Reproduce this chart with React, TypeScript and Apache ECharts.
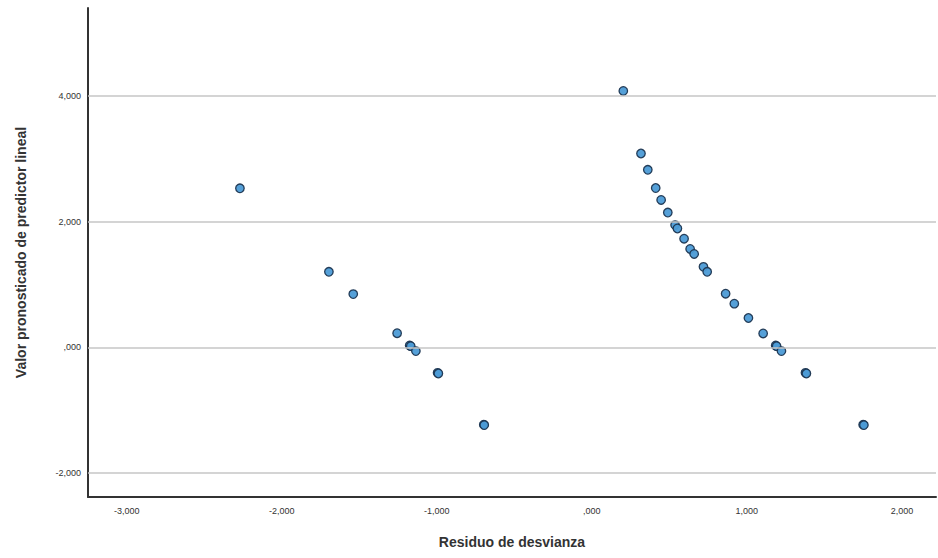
import React, { useEffect, useRef } from "react";
import * as echarts from "echarts";

const residuoIzq = [-2.27, -1.696, -1.539, -1.256, -1.175, -1.168, -1.135, -0.995, -0.99, -0.697, -0.694];
const predictorIzq = [2.532, 1.203, 0.848, 0.226, 0.03, 0.02, -0.059, -0.405, -0.415, -1.229, -1.235];

const residuoDer = [0.203, 0.317, 0.361, 0.412, 0.447, 0.49, 0.537, 0.552, 0.595, 0.634, 0.66, 0.72, 0.744, 0.863, 0.919, 1.01, 1.105, 1.186, 1.192, 1.223, 1.378, 1.384, 1.75, 1.755];
const predictorDer = [4.08, 3.085, 2.826, 2.536, 2.346, 2.146, 1.946, 1.892, 1.729, 1.566, 1.487, 1.282, 1.203, 0.854, 0.696, 0.468, 0.222, 0.03, 0.02, -0.059, -0.405, -0.415, -1.229, -1.235];

const xTicks = [-3, -2, -1, 0, 1, 2];
const yTicks = [-2, 0, 2, 4];

const fmt = (v: number) => {
  const s = Math.abs(v).toFixed(3).replace(".", ",");
  const t = s.startsWith("0,") ? s.slice(1) : s;
  return (v < 0 ? "-" : "") + t;
};

export default function App() {
  const ref = useRef<HTMLDivElement>(null);
  useEffect(() => {
    const chart = echarts.init(ref.current!, undefined, { renderer: "svg" });
    const points: number[][] = [];
    residuoIzq.forEach((x, i) => points.push([x, predictorIzq[i]]));
    residuoDer.forEach((x, i) => points.push([x, predictorDer[i]]));
    chart.setOption({
      animation: false,
      backgroundColor: "#ffffff",
      grid: { left: 88, right: 2, top: 8, bottom: 61 },
      xAxis: {
        type: "value",
        min: -3.25,
        max: 2.22,
        name: "Residuo de desvianza",
        nameLocation: "middle",
        nameGap: 38,
        nameTextStyle: { fontFamily: "Liberation Sans, Arial", fontSize: 14, fontWeight: "bold", color: "#333" },
        axisLine: { show: true, onZero: false, lineStyle: { color: "#333", width: 2 } },
        axisTick: { show: false, customValues: xTicks },
        splitLine: { show: false },
        axisLabel: {
          customValues: xTicks,
          formatter: (v: number) => fmt(v),
          fontFamily: "Liberation Sans, Arial",
          fontSize: 9,
          color: "#333",
          margin: 9,
        },
      },
      yAxis: {
        type: "value",
        min: -2.38,
        max: 5.4,
        name: "Valor pronosticado de predictor lineal",
        nameLocation: "middle",
        nameRotate: 90,
        nameGap: 60,
        nameTextStyle: { fontFamily: "Liberation Sans, Arial", fontSize: 14, fontWeight: "bold", color: "#333" },
        axisLine: { show: true, onZero: false, lineStyle: { color: "#333", width: 2 } },
        axisTick: { show: false, customValues: yTicks },
        splitLine: { show: false },
        axisLabel: {
          customValues: yTicks,
          formatter: (v: number) => fmt(v),
          fontFamily: "Liberation Sans, Arial",
          fontSize: 9,
          color: "#333",
          margin: 7,
        },
      },
      series: [
        {
          type: "scatter",
          data: [],
          z: 1,
          markLine: {
            silent: true,
            symbol: ["none", "none"],
            label: { show: false },
            lineStyle: { color: "#c6c6c6", width: 1.5, type: "solid" },
            data: yTicks.map((v) => ({ yAxis: v })),
          },
        },
        {
          type: "scatter",
          z: 3,
          symbol: "circle",
          symbolSize: 8.5,
          itemStyle: { color: "#4c9bd6", borderColor: "#1c3550", borderWidth: 1.3, opacity: 0.95 },
          data: points,
        },
      ],
    });
    return () => chart.dispose();
  }, []);
  return <div ref={ref} style={{ position: "absolute", left: 0, top: 0, width: 938, height: 558 }} />;
}
